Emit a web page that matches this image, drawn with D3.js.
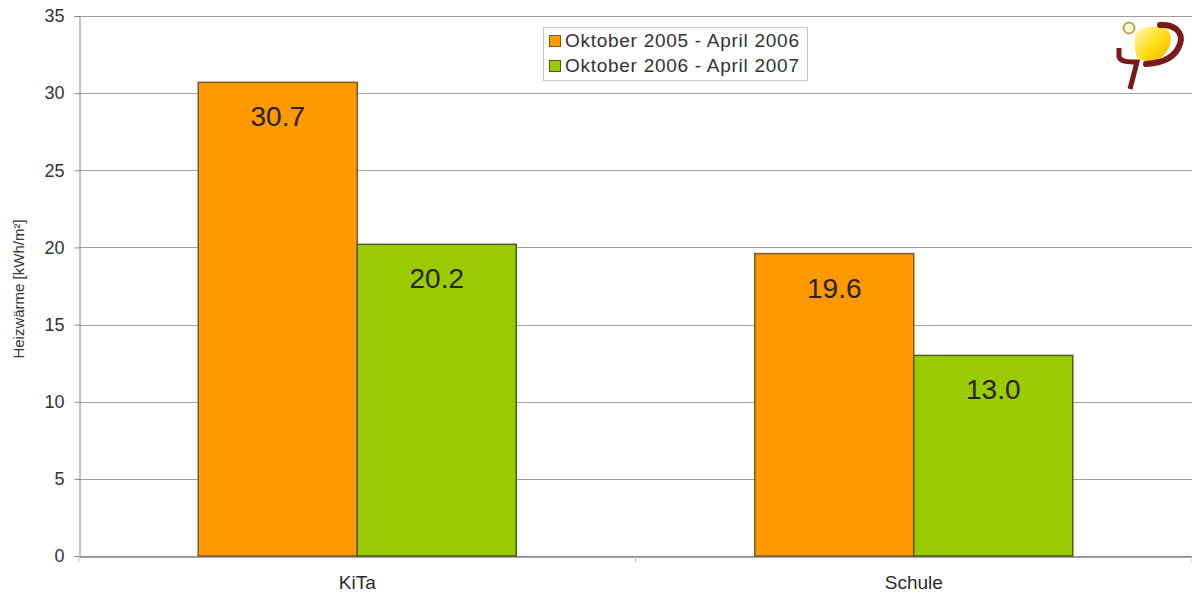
<!DOCTYPE html>
<html>
<head>
<meta charset="utf-8">
<script src="https://cdn.jsdelivr.net/npm/d3@7"></script>
<style>
  body { margin: 0; background: #fff; }
  svg { display: block; font-family: "Liberation Sans", Arial, sans-serif; }
</style>
</head>
<body>
<div id="chart"></div>
<script>
var width = 1192;
var height = 594;
var categories = ["KiTa", "Schule"];
var series = ["Oktober 2005 - April 2006", "Oktober 2006 - April 2007"];
var winter0506 = [30.7, 19.6];
var winter0607 = [20.2, 13.0];
var yTicks = [0, 5, 10, 15, 20, 25, 30, 35];
var colors = ["#ff9900", "#99cc00"];
var borders = ["#7a5a2a", "#4f5a22"];

var margin = {top: 16, right: 0, bottom: 38, left: 79};

var svg = d3.select("#chart")
  .append("svg")
  .attr("width", width)
  .attr("height", height);

var x = d3.scaleBand()
  .domain(categories)
  .range([margin.left, width - margin.right]);

var inner = d3.scaleBand()
  .domain([0, 1])
  .range([0, x.bandwidth()])
  .paddingInner(0)
  .paddingOuter(0.75);

var y = d3.scaleLinear()
  .domain([0, 35])
  .range([height - margin.bottom, margin.top]);

// grid lines
svg.append("g")
  .selectAll("line")
  .data(yTicks)
  .enter()
  .append("line")
    .attr("x1", margin.left)
    .attr("x2", width)
    .attr("y1", function(d) { return Math.round(y(d)) + 0.5; })
    .attr("y2", function(d) { return Math.round(y(d)) + 0.5; })
    .attr("stroke", "#a0a0a0")
    .attr("stroke-width", 1);

// y axis
var yAxis = svg.append("g")
  .attr("transform", "translate(" + (margin.left + 0.5) + ",0)")
  .call(d3.axisLeft(y).tickValues(yTicks).tickSize(5).tickPadding(10));
yAxis.select(".domain").attr("stroke", "#888");
yAxis.selectAll(".tick line").attr("stroke", "#888");
yAxis.selectAll("text")
  .attr("font-size", 18)
  .attr("fill", "#333")
  .attr("font-family", "Liberation Sans, Arial, sans-serif");

// x axis
var xAxis = svg.append("g")
  .attr("transform", "translate(0," + (Math.round(y(0)) + 0.5) + ")")
  .call(d3.axisBottom(x).tickSize(0).tickPadding(19));
xAxis.select(".domain").attr("stroke", "#888").attr("stroke-width", 1.5);
xAxis.selectAll("text")
  .attr("font-size", 19)
  .attr("fill", "#2a2a2a")
  .attr("font-family", "Liberation Sans, Arial, sans-serif");

// category boundary ticks
var bounds = categories.map(function(c) { return x(c); }).concat([x(categories[1]) + x.bandwidth()]);
svg.append("g")
  .selectAll("line")
  .data(bounds)
  .enter()
  .append("line")
    .attr("x1", function(d) { return d; })
    .attr("x2", function(d) { return d; })
    .attr("y1", y(0))
    .attr("y2", y(0) + 6)
    .attr("stroke", "#bbb");

// bars
var data = [winter0506, winter0607];
data.forEach(function(vals, s) {
  var g = svg.append("g");
  g.selectAll("rect")
    .data(vals)
    .enter()
    .append("rect")
      .attr("x", function(d, i) { return x(categories[i]) + inner(s); })
      .attr("y", function(d) { return y(d); })
      .attr("width", inner.bandwidth())
      .attr("height", function(d) { return y(0) - y(d); })
      .attr("fill", colors[s])
      .attr("stroke", borders[s])
      .attr("stroke-width", 1.5);
  g.selectAll("text")
    .data(vals)
    .enter()
    .append("text")
    .text(function(d) { return d.toFixed(1); })
      .attr("text-anchor", "middle")
      .attr("x", function(d, i) { return x(categories[i]) + inner(s) + inner.bandwidth() / 2; })
      .attr("y", function(d) { return y(d) + 44; })
      .attr("fill", "#2a2218")
      .attr("font-size", 28);
});

// y axis title
svg.append("text")
  .text("Heizwärme [kWh/m²]")
  .attr("transform", "translate(24," + ((margin.top + y(0)) / 2 + 3) + ") rotate(-90)")
  .attr("text-anchor", "middle")
  .attr("font-size", 15)
  .attr("fill", "#333");

// legend
var legend = svg.append("g").attr("transform", "translate(543,27)");
legend.append("rect")
  .attr("x", 0.5).attr("y", 0.5)
  .attr("width", 264).attr("height", 53)
  .attr("fill", "#fff")
  .attr("stroke", "#c8c8c8");
series.forEach(function(name, i) {
  legend.append("rect")
    .attr("x", 6.5).attr("y", 8.5 + i * 25)
    .attr("width", 11).attr("height", 11)
    .attr("fill", colors[i])
    .attr("stroke", borders[i]);
  legend.append("text")
    .text(name)
    .attr("x", 22).attr("y", 20 + i * 25)
    .attr("font-size", 19)
    .attr("textLength", 234)
    .attr("fill", "#333");
});

// logo
var logo = svg.append("g");
var grad = svg.append("defs").append("linearGradient")
  .attr("id", "logoGrad").attr("x1", 0).attr("y1", 0).attr("x2", 1).attr("y2", 1);
grad.append("stop").attr("offset", "0%").attr("stop-color", "#fffbc0");
grad.append("stop").attr("offset", "55%").attr("stop-color", "#ffdc10");
grad.append("stop").attr("offset", "100%").attr("stop-color", "#e8b000");
logo.append("path")
  .attr("d", "M1136,32 C1145,26 1160,24 1168,30 C1174,38 1170,52 1160,58 C1150,64 1140,62 1136,55 C1134,47 1134,38 1136,32 Z")
  .attr("fill", "url(#logoGrad)");
logo.append("path")
  .attr("d", "M1160,25 C1174,24 1184,32 1180,44 C1176,56 1164,63 1146,64")
  .attr("fill", "none").attr("stroke", "#7a1a1a").attr("stroke-width", 6).attr("stroke-linecap", "round");
logo.append("path")
  .attr("d", "M1119,48 L1119,57 C1121,62 1128,62 1137,62 L1130,89")
  .attr("fill", "none").attr("stroke", "#7a1a1a").attr("stroke-width", 5);
logo.append("circle")
  .attr("cx", 1129).attr("cy", 28).attr("r", 5.5)
  .attr("fill", "#fff8c8").attr("stroke", "#b8a860").attr("stroke-width", 2);
</script>
</body>
</html>
